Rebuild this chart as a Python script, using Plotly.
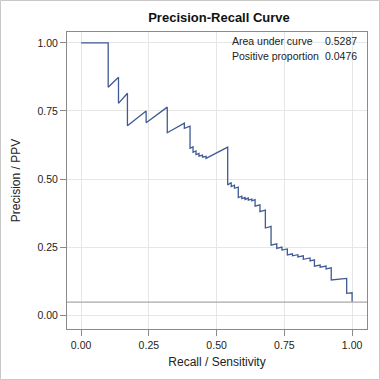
import plotly.graph_objects as go

# Precision-recall curve vertices (recall, precision)
recall = [0.0, 0.10, 0.10, 0.138, 0.138, 0.171, 0.171, 0.24, 0.24, 0.318, 0.318,
          0.381, 0.381, 0.402, 0.402, 0.413, 0.413, 0.424, 0.424, 0.435, 0.435,
          0.448, 0.448, 0.461, 0.461, 0.541, 0.541, 0.554, 0.554, 0.566, 0.566,
          0.58, 0.58, 0.593, 0.593, 0.605, 0.605, 0.617, 0.617, 0.63, 0.63,
          0.642, 0.642, 0.66, 0.66, 0.68, 0.68, 0.701, 0.701, 0.722, 0.722,
          0.741, 0.741, 0.761, 0.761, 0.78, 0.78, 0.80, 0.80, 0.82, 0.82,
          0.845, 0.845, 0.861, 0.861, 0.882, 0.882, 0.904, 0.904, 0.923, 0.923,
          0.98, 0.98, 1.0, 1.0]
precision = [1.0, 1.0, 0.837, 0.874, 0.778, 0.815, 0.696, 0.75, 0.707, 0.764, 0.670,
             0.705, 0.686, 0.694, 0.613, 0.618, 0.598, 0.603, 0.590, 0.594, 0.584,
             0.588, 0.580, 0.583, 0.576, 0.617, 0.478, 0.487, 0.472, 0.477, 0.466,
             0.470, 0.432, 0.437, 0.428, 0.432, 0.425, 0.430, 0.422, 0.426, 0.420,
             0.424, 0.400, 0.405, 0.380, 0.386, 0.320, 0.326, 0.257, 0.262, 0.245,
             0.250, 0.239, 0.243, 0.221, 0.225, 0.218, 0.222, 0.214, 0.218, 0.205,
             0.210, 0.199, 0.203, 0.180, 0.184, 0.176, 0.180, 0.170, 0.174, 0.129,
             0.135, 0.080, 0.082, 0.049]

area_under_curve = "0.5287"
positive_proportion = 0.0476
tick_vals = [0.0, 0.25, 0.5, 0.75, 1.0]
tick_text = ["0.00", "0.25", "0.50", "0.75", "1.00"]

FONT = "Liberation Sans, Arial"

fig = go.Figure()
fig.add_trace(go.Scatter(x=recall, y=precision, mode="lines",
                         line=dict(color="#3f5a94", width=1.3),
                         showlegend=False, hoverinfo="skip"))

fig.add_hline(y=positive_proportion, line=dict(color="#a8a8a8", width=1.3))

axis_common = dict(
    tickvals=tick_vals, ticktext=tick_text, showgrid=True, gridcolor="#e6e6e6",
    gridwidth=1, zeroline=False, showline=True, linecolor="#8a8a8a", linewidth=1,
    mirror=True, ticks="outside", ticklen=6, tickcolor="#8a8a8a", automargin=False,
    tickfont=dict(family=FONT, size=10.5, color="#222"),
)
fig.update_xaxes(range=[-0.052, 1.055],
                 title=dict(text="Recall / Sensitivity", standoff=8,
                            font=dict(family=FONT, size=12, color="#222")),
                 **axis_common)
fig.update_yaxes(range=[-0.051, 1.04],
                 title=dict(text="Precision / PPV", standoff=14,
                            font=dict(family=FONT, size=12, color="#222")),
                 **axis_common)

fnt = dict(family=FONT, size=10.5, color="#222")
fig.add_annotation(xref="paper", yref="paper", x=0.543, y=0.995, xanchor="left", yanchor="top",
                   text="Area under curve", showarrow=False, font=fnt)
fig.add_annotation(xref="paper", yref="paper", x=0.972, y=0.995, xanchor="right", yanchor="top",
                   text=area_under_curve, showarrow=False, font=fnt)
fig.add_annotation(xref="paper", yref="paper", x=0.543, y=0.945, xanchor="left", yanchor="top",
                   text="Positive proportion", showarrow=False, font=fnt)
fig.add_annotation(xref="paper", yref="paper", x=0.972, y=0.945, xanchor="right", yanchor="top",
                   text=f"{positive_proportion:.4f}", showarrow=False, font=fnt)

# outer frame
fig.add_shape(type="rect", xref="paper", yref="paper",
              x0=(0.5 - 67) / 300, x1=(379.5 - 67) / 300,
              y0=(329 - 379.5) / 297, y1=(329 - 0.5) / 297,
              line=dict(color="#c8c8c8", width=1), layer="below")

fig.update_layout(
    width=380, height=380,
    margin=dict(l=67, r=13, t=32, b=51, autoexpand=False),
    paper_bgcolor="white", plot_bgcolor="white",
    title=dict(text="<b>Precision-Recall Curve</b>", x=219 / 380, xanchor="center",
               y=1 - 17 / 380, yanchor="middle",
               font=dict(family=FONT, size=13, color="#111")),
)

fig.write_html("out.html", config={"displayModeBar": False},
               post_script="document.body.style.margin='0';document.body.style.overflow='hidden';")
